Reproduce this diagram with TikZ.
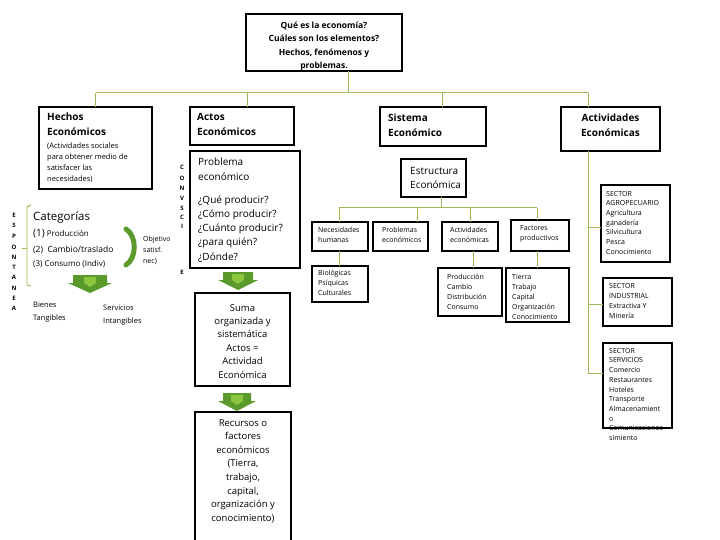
\documentclass[tikz,border=0pt]{standalone}
\usepackage{fontspec}
\setmainfont{Open Sans}
\definecolor{conn}{HTML}{9BBB59}
\definecolor{garr}{HTML}{5A9A2A}
\definecolor{garrl}{HTML}{8CC63F}
\newcommand\blockarrow[3]{%
  \fill[garr] ({#1-#3+5},#2) -- ({#1+#3-5},#2) -- ({#1+#3-5},{#2+8}) -- ({#1+#3},{#2+8}) -- (#1,{#2+18}) -- ({#1-#3},{#2+8}) -- ({#1-#3+5},{#2+8}) -- cycle;
  \fill[garrl] ({#1-6},{#2+2}) -- ({#1+6},{#2+2}) -- ({#1+6},{#2+8}) -- (#1,{#2+12}) -- ({#1-6},{#2+8}) -- cycle;
}
\tikzset{
  bx/.style={draw=black, line width=1.1pt, anchor=north west, inner sep=0, outer sep=0, fill=white},
  tx/.style={anchor=base west, inner sep=0, align=left},
  tc/.style={anchor=base, inner sep=0, align=center},
  cn/.style={draw=conn, line width=1pt},
  vl/.style={anchor=base, inner sep=0, font=\bfseries\fontsize{6}{6}\selectfont},
}
\begin{document}
\begin{tikzpicture}[x=1pt,y=-1pt]
\useasboundingbox (0,0) rectangle (720,540);
\fill[white] (0,0) rectangle (720,540);

% ---------- boxes ----------
\node[bx, minimum width=156, minimum height=57] (top) at (246,14) {};
\node[bx, minimum width=113, minimum height=82] (hechos) at (39,107) {};
\node[bx, minimum width=104, minimum height=38] (actos) at (190,107) {};
\node[bx, minimum width=110, minimum height=117] (problema) at (190,151) {};
\node[bx, minimum width=95, minimum height=93] (suma) at (195,293) {};
\node[bx, minimum width=96, minimum height=140] (recursos) at (195,412) {};
\node[bx, minimum width=106, minimum height=39] (sistema) at (380,107) {};
\node[bx, minimum width=65, minimum height=38] (estr) at (401,159) {};
\node[bx, minimum width=56, minimum height=29] (nec) at (312,222) {};
\node[bx, minimum width=55, minimum height=29] (prob) at (373,222) {};
\node[bx, minimum width=56, minimum height=29] (act) at (442,222) {};
\node[bx, minimum width=58, minimum height=31] (fac) at (511,220) {};
\node[bx, minimum width=56, minimum height=36] (bio) at (312,266) {};
\node[bx, minimum width=64, minimum height=48] (prod) at (438,268) {};
\node[bx, minimum width=63, minimum height=54] (tierra) at (506,268) {};
\node[bx, minimum width=99, minimum height=44] (actec) at (561,107) {};
\node[bx, minimum width=69, minimum height=77] (agro) at (601,185) {};
\node[bx, minimum width=69, minimum height=48] (ind) at (603,278) {};
\node[bx, minimum width=69, minimum height=85] (serv) at (603,343) {};

% ---------- connectors ----------
\coordinate (j0) at (348,93);
\coordinate (dA) at (247,93);
\coordinate (dS) at (442,93);
\coordinate (dE) at (588,93);
\draw[cn] (top.south -| j0) -- (j0);
\draw[cn] (hechos.north |- j0) -- (dE);
\draw[cn] (hechos.north |- j0) -- (hechos.north);
\draw[cn] (dA) -- (dA |- actos.north);
\draw[cn] (dS) -- (dS |- sistema.north);
\draw[cn] (dE) -- (dE |- actec.north);

\coordinate (k0) at (441,208);
\coordinate (k1) at (339,208);
\coordinate (k2) at (417,208);
\coordinate (k3) at (470,208);
\coordinate (k4) at (537,208);
\draw[cn] (estr.south -| k0) -- (k0);
\draw[cn] (k1) -- (k4);
\draw[cn] (k1) -- (k1 |- nec.north);
\draw[cn] (k2) -- (k2 |- prob.north);
\draw[cn] (k3) -- (k3 |- act.north);
\draw[cn] (k4) -- (k4 |- fac.north);
\coordinate (m1) at (473,260);
\draw[cn] (nec.south -| k1) -- (bio.north -| k1);
\draw[cn] (act.south -| m1) -- (prod.north -| m1);
\draw[cn] (fac.south -| k4) -- (tierra.north -| k4);

\coordinate (r0) at (588,228);
\coordinate (r1) at (588,304);
\coordinate (r2) at (588,373);
\draw[cn] (actec.south -| r0) -- (r2);
\draw[cn] (r0) -- (agro.west |- r0);
\draw[cn] (r1) -- (ind.west |- r1);
\draw[cn] (r2) -- (serv.west |- r2);

% ---------- texts (anchor = baseline of the last line) ----------
\node[tc, font=\bfseries\fontsize{8.5}{13.3}\selectfont] (ttop) at (324,68.6)
  {Qué es la economía?\\Cuáles son los elementos?\\Hechos, fenómenos y\\problemas.};

\node[tx, font=\bfseries\fontsize{10}{15}\selectfont] (thechos) at (47,135.2) {Hechos\\Económicos};
\node[tx, font=\fontsize{7.5}{11}\selectfont] (thechos2) at (47,181.4)
  {(Actividades sociales\\para obtener medio de\\satisfacer las\\necesidades)};

\node[tx, font=\bfseries\fontsize{10}{15}\selectfont] (tactos) at (197,135.2) {Actos\\Económicos};
\node[tx, font=\fontsize{10}{15}\selectfont] (tprob) at (198,180.2) {Problema\\económico};
\node[tx, font=\fontsize{10}{14.2}\selectfont] (tpreg) at (198,260)
  {¿Qué producir?\\¿Cómo producir?\\¿Cuánto producir?\\¿para quién?\\¿Dónde?};

\node[tx, font=\bfseries\fontsize{10}{15}\selectfont] (tsist) at (388,136.2) {Sistema\\Económico};
\node[tc, font=\bfseries\fontsize{10}{15}\selectfont] (tactec) at (610.5,136.2) {Actividades\\Económicas};
\node[tx, font=\fontsize{10}{14}\selectfont] (testr) at (410,188.2) {Estructura\\Económica};

\node[tx, font=\fontsize{7}{10.5}\selectfont] (tnec) at (318,242.7) {Necesidades\\humanas};
\node[tx, font=\fontsize{7}{10.5}\selectfont] (tprb) at (382,242.7) {Problemas\\económicos};
\node[tx, font=\fontsize{7}{10.5}\selectfont] (tact) at (450,242.7) {Actividades\\económicas};
\node[tx, font=\fontsize{7}{10.5}\selectfont] (tfac) at (520,240.7) {Factores\\productivos};
\node[tx, font=\fontsize{7}{10}\selectfont] (tbio) at (318,295.2) {Biológicas\\Psíquicas\\Culturales};
\node[tx, font=\fontsize{7}{10}\selectfont] (tprod) at (447,309.2) {Producción\\Cambio\\Distribución\\Consumo};
\node[tx, font=\fontsize{7}{10}\selectfont] (ttier) at (512,319.2) {Tierra\\Trabajo\\Capital\\Organización\\Conocimiento};

\node[tx, font=\fontsize{7}{9.7}\selectfont] (tagro) at (606,254.4)
  {SECTOR\\AGROPECUARIO\\Agricultura\\ganadería\\Silvicultura\\Pesca\\Conocimiento};
\node[tx, font=\fontsize{7}{10}\selectfont] (tind) at (609,318.2)
  {SECTOR\\INDUSTRIAL\\Extractiva Y\\Minería};
\node[tx, font=\fontsize{7}{9.7}\selectfont] (tserv) at (609,440.5)
  {SECTOR\\SERVICIOS\\Comercio\\Restaurantes\\Hoteles\\Transporte\\Almacenamient\\o\\Comunicaciones\\simiento};

\node[tc, font=\fontsize{9.5}{13.4}\selectfont] (tsuma) at (242.5,378)
  {Suma\\organizada y\\sistemática\\Actos =\\Actividad\\Económica};
\node[tc, font=\fontsize{9.5}{13.6}\selectfont] (trec) at (243,521.2)
  {Recursos o\\factores\\económicos\\(Tierra,\\trabajo,\\capital,\\organización y\\conocimiento)};

% Categorías
\node[tx, font=\fontsize{11.5}{14}\selectfont] (tcat) at (33,220.7) {Categorías};
\node[tx, font=\fontsize{8}{10}\selectfont] (tc1) at (33,236.5) {{\fontsize{10}{10}\selectfont(1)} Producción};
\node[tx, font=\fontsize{8.5}{10}\selectfont] (tc2) at (33,252.5) {(2)\ \ Cambio/traslado};
\node[tx, font=\fontsize{8}{10}\selectfont] (tc3) at (33,266.5) {(3) Consumo (Indiv)};
\node[tx, font=\fontsize{7}{11}\selectfont] (tobj) at (143,263.5) {Objetivo\\satisf.\\nec)};
\node[tx, font=\fontsize{7.5}{13}\selectfont] (tbien) at (33,320.5) {Bienes\\Tangibles};
\node[tx, font=\fontsize{7.5}{12.5}\selectfont] (tserv2) at (103,323) {Servicios\\Intangibles};

% thin bracket and thick green parenthesis
\draw[conn, line width=0.9pt] (31,205) -- (27,207) -- (27,285) -- (31,286);
\draw[conn, line width=0.9pt] (27,248) -- (22,248);
\draw[garr, line width=5pt, line cap=round] (126,229) .. controls (137,236) and (137,258) .. (126,265);

% vertical letters
\foreach \l/\yy in {E/216,S/226,P/236,O/247,N/257,T/267,A/277,N/288,E/298,A/308}
  \node[vl] at (14,\yy+2) {\l};
\foreach \l/\yy in {C/168,O/178.5,N/189,V/199,S/208.5,C/218,I/227,E/272}
  \node[vl] at (182,\yy+2) {\l};

% block arrows
\blockarrow{90}{275}{22}
\blockarrow{238}{272}{20}
\blockarrow{237}{393}{19}
\end{tikzpicture}
\end{document}
